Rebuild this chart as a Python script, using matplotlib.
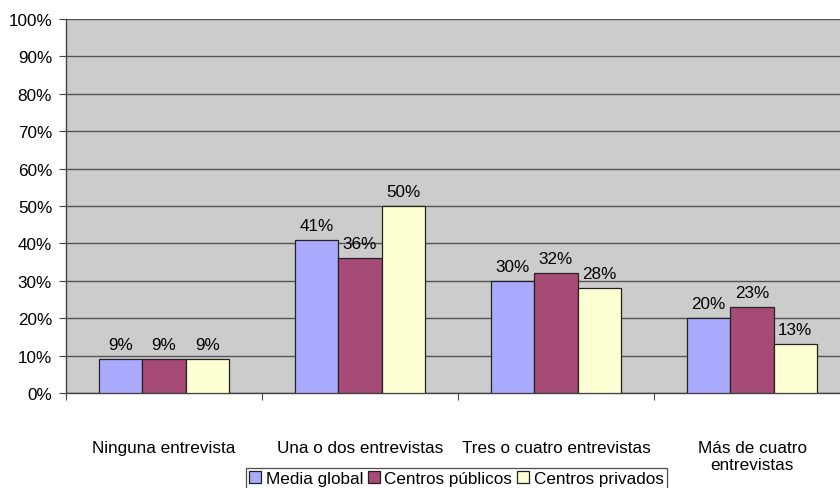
import numpy as np
import matplotlib.pyplot as plt
from matplotlib.patches import Patch

plt.rcParams['font.family'] = ['Liberation Sans', 'DejaVu Sans']

categories = ['Ninguna entrevista', 'Una o dos entrevistas',
              'Tres o cuatro entrevistas', 'Más de cuatro\nentrevistas']
series_names = ['Media global', 'Centros públicos', 'Centros privados']
media_global = [9, 41, 30, 20]
centros_publicos = [9, 36, 32, 23]
centros_privados = [9, 50, 28, 13]
y_ticks = list(range(0, 101, 10))

colors = ['#AAAAFF', '#A64A76', '#FFFFD4']
W, H = 840, 489
fig = plt.figure(figsize=(W / 100, H / 100), dpi=100)
# plot area runs a little past the right edge of the canvas
left, right, top, bottom = 66, 850, 20, 394
ax = fig.add_axes([left / W, 1 - bottom / H, (right - left) / W, (bottom - top) / H])
ax.set_facecolor('#CCCCCC')

fs = 12.3
x = np.arange(len(categories))
bw = 0.221
for i, (vals, col) in enumerate(zip([media_global, centros_publicos, centros_privados], colors)):
    pos = x + (i - 1) * bw
    ax.bar(pos, vals, width=bw, color=col, edgecolor='#222222', linewidth=0.9, zorder=3)
    for p, v in zip(pos, vals):
        ax.text(p, v + 1.9, f'{v}%', ha='center', va='bottom', fontsize=fs, zorder=4)

ax.set_xlim(-0.5, len(categories) - 0.5)
ax.set_ylim(0, 100)
ax.set_yticks(y_ticks)
ax.set_yticklabels([f'{t}%' for t in y_ticks], fontsize=fs)
ax.yaxis.grid(True, color='#555555', linewidth=1.0, zorder=1)
ax.set_axisbelow(True)

# category boundary ticks, labels centred between them
ax.set_xticks(np.arange(-0.5, len(categories), 1.0))
ax.set_xticklabels([])
ax.set_xticks(x, minor=True)
ax.set_xticklabels(categories, minor=True, fontsize=fs, linespacing=1.15)
ax.tick_params(axis='x', which='minor', length=0, pad=34)
ax.tick_params(axis='x', which='major', length=5, color='#444444')
ax.tick_params(axis='y', length=5, color='#444444', pad=5)

for s in ['top', 'right']:
    ax.spines[s].set_visible(False)
for s in ['left', 'bottom']:
    ax.spines[s].set_color('#444444')
    ax.spines[s].set_linewidth(1.0)

handles = [Patch(facecolor=c, edgecolor='#222222', linewidth=0.9) for c in colors]
leg = fig.legend(handles, series_names, loc='upper center', ncol=3,
                 bbox_to_anchor=(456.5 / W, 1 - 469 / H), fontsize=fs,
                 frameon=True, fancybox=False, handlelength=0.7, handleheight=0.7,
                 handletextpad=0.25, columnspacing=0.3, borderpad=0.2,
                 borderaxespad=0)
leg.get_frame().set_edgecolor('#222222')
leg.get_frame().set_linewidth(0.9)

fig.savefig('out.png', dpi=100, facecolor='white')
